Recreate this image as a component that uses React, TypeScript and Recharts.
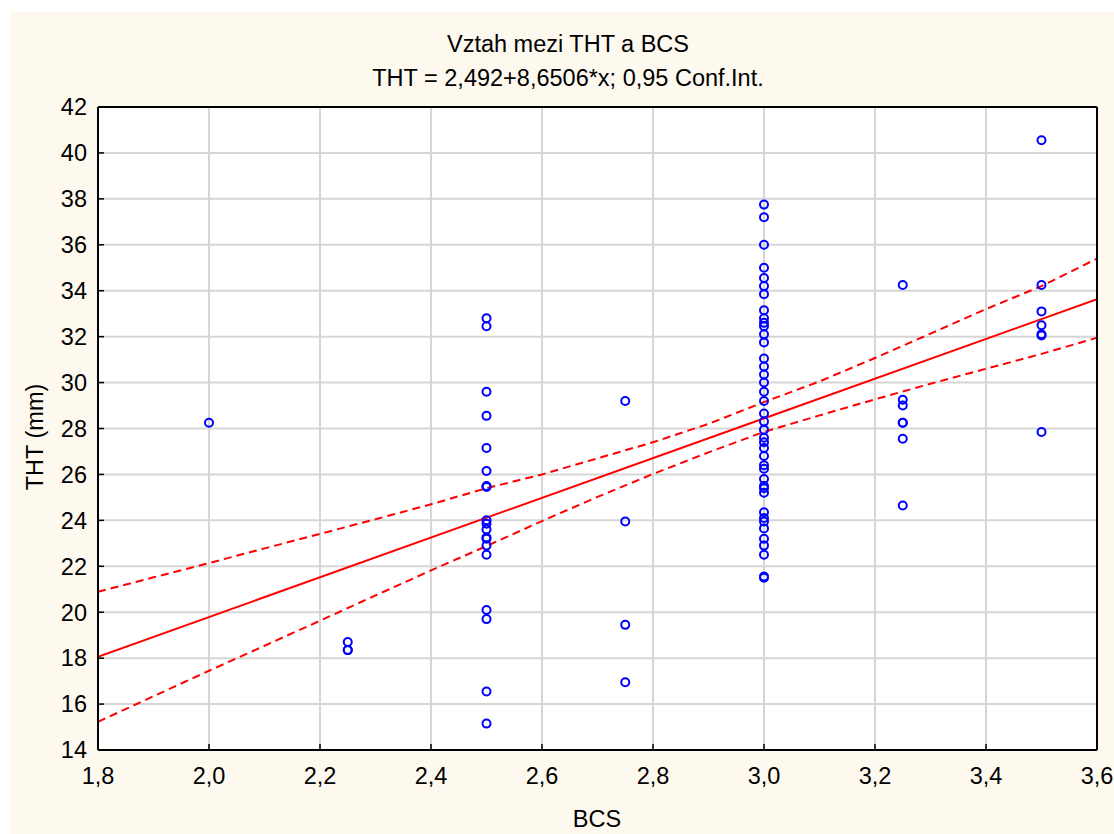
import React from 'react'
import { ComposedChart, Scatter, Line, XAxis, YAxis, CartesianGrid } from 'recharts'

// axis ticks
const xMajor = [1.8, 2.0, 2.2, 2.4, 2.6, 2.8, 3.0, 3.2, 3.4, 3.6]
const xMinor = [1.9, 2.1, 2.3, 2.5, 2.7, 2.9, 3.1, 3.3, 3.5]
const yMajor = [14, 16, 18, 20, 22, 24, 26, 28, 30, 32, 34, 36, 38, 40, 42]
const yMinor = [15, 17, 19, 21, 23, 25, 27, 29, 31, 33, 35, 37, 39, 41]

// THT (mm) observed for each BCS score
const bcs20 = [28.25]
const bcs225 = [18.7, 18.35, 18.35]
const bcs25 = [
  32.8, 32.45, 29.6, 28.55, 27.15, 26.15, 25.5, 25.45, 24.0, 23.85, 23.6, 23.25, 23.2, 22.9, 22.5, 20.1, 19.7,
  16.55, 15.15,
]
const bcs275 = [29.2, 23.95, 19.45, 16.95]
const bcs30 = [
  37.75, 37.2, 36.0, 35.0, 34.55, 34.2, 33.85, 33.15, 32.8, 32.6, 32.45, 32.1, 31.75, 31.05, 30.7, 30.35, 30.0,
  29.6, 29.2, 28.65, 28.3, 27.95, 27.6, 27.4, 27.15, 26.8, 26.4, 26.25, 25.8, 25.5, 25.4, 25.2, 24.35, 24.1, 23.95,
  23.65, 23.2, 22.9, 22.5, 21.55, 21.5,
]
const bcs325 = [34.25, 29.25, 29.0, 28.25, 28.25, 27.55, 24.65]
const bcs35 = [40.55, 34.25, 33.1, 32.5, 32.1, 32.05, 27.85]

// regression line and 0.95 confidence band
const fitX = [1.8, 3.6]
const fitY = [18.06, 33.63]
const bandX = [1.8, 1.9, 2.0, 2.1, 2.2, 2.3, 2.4, 2.5, 2.6, 2.7, 2.8, 2.9, 3.0, 3.1, 3.2, 3.3, 3.4, 3.5, 3.6]
const bandUpper = [
  20.89, 21.52, 22.14, 22.78, 23.41, 24.05, 24.7, 25.4, 26.0, 26.7, 27.4, 28.2, 29.15, 30.05, 31.07, 32.13, 33.2,
  34.2, 35.4,
]
const bandLower = [
  15.23, 16.34, 17.45, 18.54, 19.63, 20.73, 21.82, 22.88, 23.97, 25.02, 26.02, 26.96, 27.85, 28.57, 29.27, 29.95,
  30.6, 31.25, 31.95,
]

const groups: Array<[number, number[]]> = [
  [2.0, bcs20],
  [2.25, bcs225],
  [2.5, bcs25],
  [2.75, bcs275],
  [3.0, bcs30],
  [3.25, bcs325],
  [3.5, bcs35],
]
const points = groups.flatMap(([x, ys]) => ys.map((y) => ({ x, y })))
const fitData = fitX.map((x, i) => ({ x, y: fitY[i] }))
const upperData = bandX.map((x, i) => ({ x, y: bandUpper[i] }))
const lowerData = bandX.map((x, i) => ({ x, y: bandLower[i] }))

const FONT = '"Liberation Sans", Arial, sans-serif'
const FS = 23.5
const fmtX = (v: number) => v.toFixed(1).replace('.', ',')
const axisLine = { stroke: '#000', strokeWidth: 2 }
const tickLine = { stroke: '#000', strokeWidth: 1.5 }
const tickText = { fill: '#000', fontSize: FS, fontFamily: FONT }

const Ring = (props: any) => (
  <circle cx={props.cx} cy={props.cy} r={4} fill="none" stroke="#0000ff" strokeWidth={2} />
)

const App: React.FC = () => {
  return (
    <div style={{ position: 'absolute', left: 0, top: 0, width: 1114, height: 834, background: '#fff' }}>
      <div style={{ position: 'absolute', left: 10, top: 12, width: 1104, height: 822, background: '#fdf9ef' }} />
      <div style={{ position: 'absolute', left: 0, top: 0 }}>
        <ComposedChart width={1114} height={834} margin={{ top: 105, right: 15, bottom: 82, left: 96 }}>
          <CartesianGrid stroke="#d6d6d6" strokeWidth={2} fill="#fff" fillOpacity={1} />
          <XAxis
            dataKey="x"
            type="number"
            domain={[1.8, 3.6]}
            allowDataOverflow
            ticks={xMajor}
            interval={0}
            height={1}
            axisLine={axisLine}
            tickLine={tickLine}
            tickSize={-6}
            tickMargin={23}
            tick={tickText}
            tickFormatter={fmtX}
          />
          <XAxis
            xAxisId="bottomMinor"
            type="number"
            domain={[1.8, 3.6]}
            allowDataOverflow
            ticks={xMinor}
            interval={0}
            height={1}
            axisLine={false}
            tickLine={tickLine}
            tickSize={-4}
            tick={false}
          />
          <XAxis
            xAxisId="top"
            orientation="top"
            type="number"
            domain={[1.8, 3.6]}
            allowDataOverflow
            ticks={xMajor}
            interval={0}
            height={1}
            axisLine={axisLine}
            tickLine={tickLine}
            tickSize={-5}
            tick={false}
          />
          <XAxis
            xAxisId="topMinor"
            orientation="top"
            type="number"
            domain={[1.8, 3.6]}
            allowDataOverflow
            ticks={xMinor}
            interval={0}
            height={1}
            axisLine={false}
            tickLine={tickLine}
            tickSize={-3}
            tick={false}
          />
          <YAxis
            type="number"
            domain={[14, 42]}
            allowDataOverflow
            ticks={yMajor}
            interval={0}
            width={1}
            axisLine={axisLine}
            tickLine={tickLine}
            tickSize={-6}
            tickMargin={17}
            tick={tickText}
          />
          <YAxis
            yAxisId="leftMinor"
            type="number"
            domain={[14, 42]}
            allowDataOverflow
            ticks={yMinor}
            interval={0}
            width={1}
            axisLine={false}
            tickLine={tickLine}
            tickSize={-3}
            tick={false}
          />
          <YAxis
            yAxisId="right"
            orientation="right"
            type="number"
            domain={[14, 42]}
            allowDataOverflow
            ticks={yMajor}
            interval={0}
            width={1}
            axisLine={axisLine}
            tickLine={tickLine}
            tickSize={-5}
            tick={false}
          />
          <YAxis
            yAxisId="rightMinor"
            orientation="right"
            type="number"
            domain={[14, 42]}
            allowDataOverflow
            ticks={yMinor}
            interval={0}
            width={1}
            axisLine={false}
            tickLine={tickLine}
            tickSize={-3}
            tick={false}
          />
          <Line
            data={upperData}
            dataKey="y"
            type="linear"
            stroke="#ff0000"
            strokeWidth={2}
            strokeDasharray="8 5"
            dot={false}
            isAnimationActive={false}
          />
          <Line
            data={lowerData}
            dataKey="y"
            type="linear"
            stroke="#ff0000"
            strokeWidth={2}
            strokeDasharray="8 5"
            dot={false}
            isAnimationActive={false}
          />
          <Line
            data={fitData}
            dataKey="y"
            type="linear"
            stroke="#ff0000"
            strokeWidth={2}
            dot={false}
            isAnimationActive={false}
          />
          <Scatter data={points} dataKey="y" shape={Ring} isAnimationActive={false} />
        </ComposedChart>
      </div>
      <svg
        width={1114}
        height={834}
        style={{ position: 'absolute', left: 0, top: 0, pointerEvents: 'none' }}
        fontFamily={FONT}
        fontSize={FS}
        fill="#000"
      >
        <text x={568} y={52} textAnchor="middle">
          Vztah mezi THT a BCS
        </text>
        <text x={568} y={86} textAnchor="middle">
          THT = 2,492+8,6506*x; 0,95 Conf.Int.
        </text>
        <text x={597} y={827} textAnchor="middle">
          BCS
        </text>
        <text x={43} y={437} textAnchor="middle" transform="rotate(-90 43 437)">
          THT (mm)
        </text>
      </svg>
    </div>
  )
}

export default App
